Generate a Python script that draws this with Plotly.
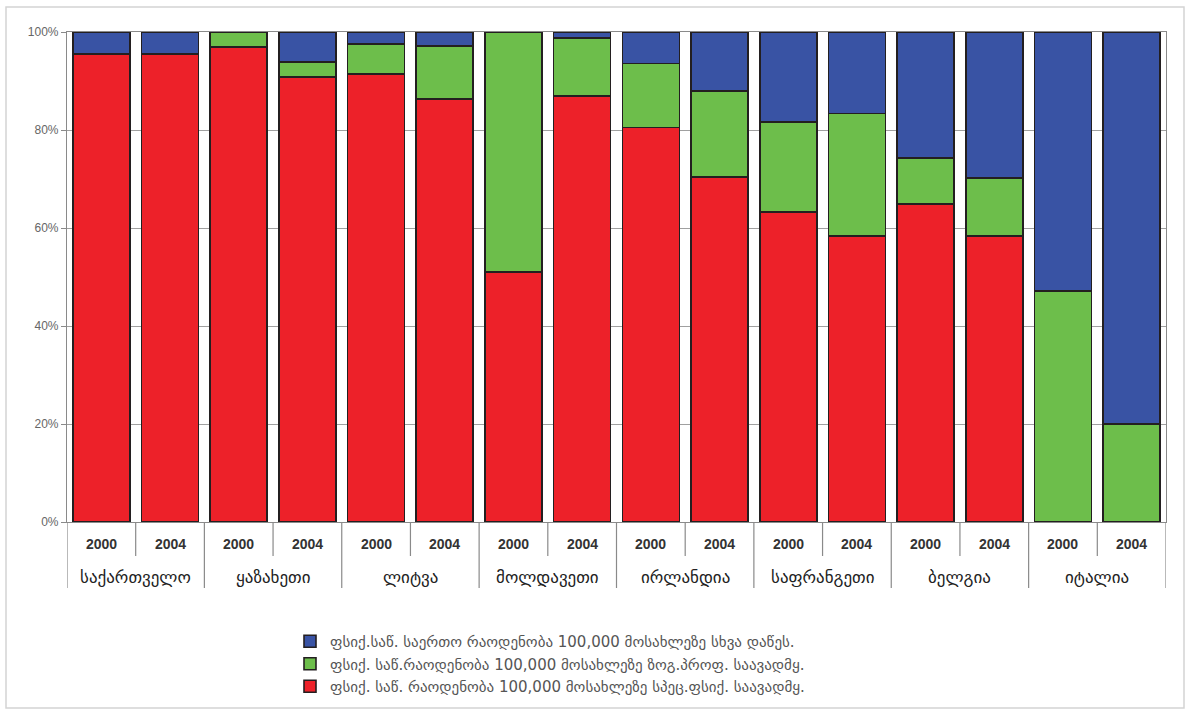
import plotly.graph_objects as go

countries = ["საქართველო", "ყაზახეთი", "ლიტვა", "მოლდავეთი",
             "ირლანდია", "საფრანგეთი", "ბელგია", "იტალია"]
years = ["2000", "2004"]

red_vals =   [95.5, 95.5, 97.0, 90.8, 91.4, 86.3, 51.0, 86.9, 80.5, 70.4, 63.3, 58.4, 64.9, 58.4, 0.0, 0.0]
green_vals = [0.0, 0.0, 3.0, 3.1, 6.1, 10.8, 49.0, 11.9, 13.1, 17.6, 18.3, 25.0, 9.4, 11.8, 47.1, 20.0]
blue_vals =  [4.5, 4.5, 0.0, 6.1, 2.5, 2.9, 0.0, 1.2, 6.4, 12.0, 18.4, 16.6, 25.7, 29.8, 52.9, 80.0]

series_names = [
    "ფსიქ. საწ. რაოდენობა 100,000 მოსახლეზე სპეც.ფსიქ. საავადმყ.",
    "ფსიქ. საწ.რაოდენობა 100,000 მოსახლეზე ზოგ.პროფ. საავადმყ.",
    "ფსიქ.საწ. საერთო რაოდენობა 100,000 მოსახლეზე სხვა დაწეს.",
]
series_colors = ["#ED2129", "#6DBE4B", "#3953A4"]
y_ticks = [0, 20, 40, 60, 80, 100]

keys = [f"{c} {y}" for c in countries for y in years]

fig = go.Figure()
for name, vals, col in zip(series_names, [red_vals, green_vals, blue_vals], series_colors):
    fig.add_trace(go.Bar(
        x=keys, y=vals, name=name,
        marker=dict(color=col, line=dict(color="#231F20", width=1.6)),
    ))

# plot-area geometry in pixels (for converting label offsets)
L, R, T, B = 67, 21, 32, 189
W, H = 1187, 711
ph = H - T - B

def py(pix):  # pixel y -> paper y
    return (H - B - pix) / ph

def px(pix):  # pixel x -> paper x
    return (pix - L) / (W - L - R)

shapes = []
annotations = []
n = len(keys)
for k in range(n + 1):
    xb = k - 0.5
    long_line = (k % 2 == 0)
    shapes.append(dict(type="line", xref="x", yref="paper",
                       x0=xb, x1=xb, y0=0, y1=py(588 if long_line else 556),
                       line=dict(color="#8a8a8a", width=1.2)))

for i, key in enumerate(keys):
    annotations.append(dict(x=i, y=py(544), xref="x", yref="paper",
                            text=f"<b>{years[i % 2]}</b>", showarrow=False,
                            font=dict(family="Liberation Sans, Arial", size=14, color="#333333"),
                            xanchor="center", yanchor="middle"))
for j, c in enumerate(countries):
    annotations.append(dict(x=2 * j + 0.5, y=py(577), xref="x", yref="paper",
                            text=c, showarrow=False,
                            font=dict(family="DejaVu Sans", size=17, color="#222222"),
                            xanchor="center", yanchor="middle"))

# outer light frame
shapes.append(dict(type="rect", xref="paper", yref="paper",
                   x0=px(6), x1=px(1184), y0=py(708), y1=py(7),
                   line=dict(color="#d4d4d4", width=1.5), layer="below"))

fig.update_layout(
    barmode="stack",
    bargap=0.17,
    width=W, height=H,
    margin=dict(l=L, r=R, t=T, b=B, autoexpand=False),
    paper_bgcolor="white",
    plot_bgcolor="white",
    shapes=shapes,
    annotations=annotations,
    showlegend=True,
    legend=dict(
        traceorder="reversed",
        x=px(290), y=py(625), xanchor="left", yanchor="top",
        font=dict(family="DejaVu Sans", size=15, color="#555555"),
        bgcolor="rgba(0,0,0,0)",
        tracegroupgap=0,
        itemwidth=30,
    ),
    xaxis=dict(
        type="category", showticklabels=False, ticks="",
        showgrid=False, zeroline=False,
        showline=True, linecolor="#8a8a8a", linewidth=1.2, mirror=True,
        range=[-0.5, n - 0.5],
    ),
    yaxis=dict(
        range=[0, 100],
        tickvals=y_ticks,
        ticktext=[f"{v}%" for v in y_ticks],
        ticks="outside", ticklen=5, tickcolor="#8a8a8a",
        tickfont=dict(family="Liberation Sans, Arial", size=12, color="#666666"),
        showgrid=True, gridcolor="#a0a0a0", gridwidth=1,
        zeroline=False,
        showline=True, linecolor="#8a8a8a", linewidth=1.2, mirror=True,
    ),
)

fig.write_html("out.html")
